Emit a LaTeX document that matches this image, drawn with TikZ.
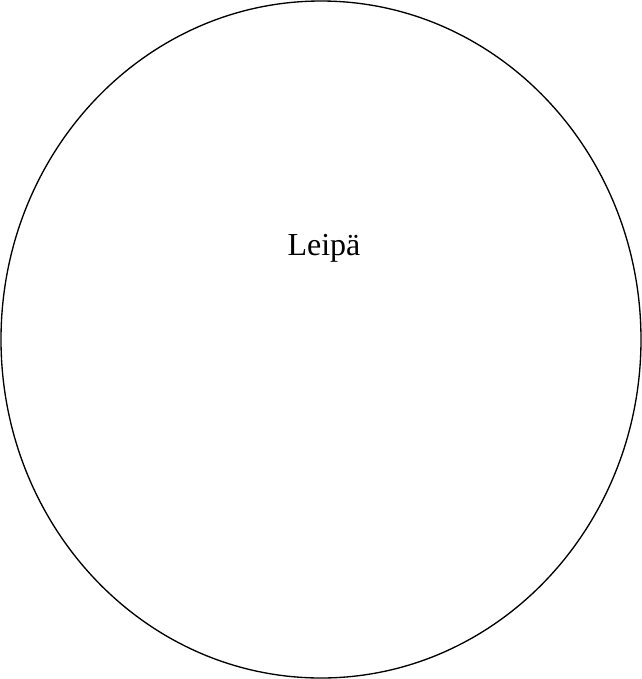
\documentclass[tikz,border=0pt]{standalone}
\usepackage{fontspec}
\setmainfont{Liberation Serif}
\usetikzlibrary{shapes.geometric}
\tikzstyle{bread} = [
    ellipse,
    draw=black,
    line width=1pt,
    minimum width=480pt,
    minimum height=507.75pt,
    inner sep=0pt
]
\tikzstyle{label} = [
    font=\fontsize{24}{28}\selectfont,
    inner sep=0pt
]
\begin{document}
\begin{tikzpicture}[x=0.75pt, y=-0.75pt]

\useasboundingbox (0,0) rectangle (642,679);

\node (leipa) [bread] at (321,339.5) {};

\node (name) [label] at (324,248) {Leipä};

\end{tikzpicture}
\end{document}
